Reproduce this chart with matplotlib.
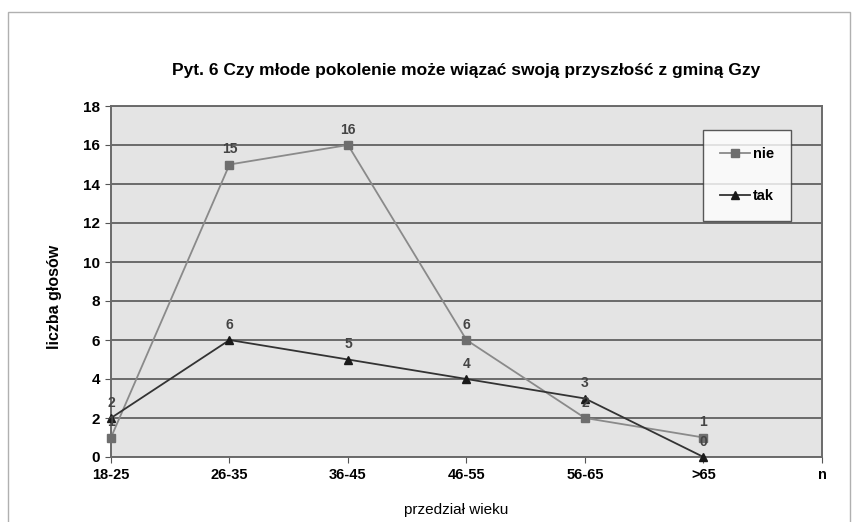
import matplotlib.pyplot as plt
from matplotlib.patches import Rectangle

plt.rcParams['font.family'] = ['Liberation Sans', 'DejaVu Sans']
plt.rcParams['font.weight'] = 'bold'

categories = ['18-25', '26-35', '36-45', '46-55', '56-65', '>65', 'n']
nie = [1, 15, 16, 6, 2, 1]
tak = [2, 6, 5, 4, 3, 0]
yticks = [0, 2, 4, 6, 8, 10, 12, 14, 16, 18]

fig = plt.figure(figsize=(8.53, 5.22), dpi=100)
fig.patch.set_facecolor('white')

# light frame round the whole chart
fig.patches.append(Rectangle((8 / 853, -0.05), 842 / 853, 1.05 - 12 / 522,
                             transform=fig.transFigure, fill=False,
                             edgecolor='#b0b0b0', linewidth=1.0))

ax = fig.add_axes([111 / 853, 1 - 457 / 522, 711 / 853, 351 / 522])
ax.set_facecolor('#e4e4e4')

x = list(range(len(nie)))
ax.plot(x, nie, color='#8a8a8a', linewidth=1.3, marker='s', markersize=6,
        markerfacecolor='#6e6e6e', markeredgecolor='#6e6e6e', label='nie',
        zorder=3, clip_on=False)
ax.plot(x, tak, color='#333333', linewidth=1.3, marker='^', markersize=6,
        markerfacecolor='#1a1a1a', markeredgecolor='#1a1a1a', label='tak',
        zorder=3, clip_on=False)

for xi, v in zip(x, nie):
    ax.annotate(str(v), (xi, v), textcoords='offset points', xytext=(0, 6),
                ha='center', va='bottom', fontsize=10, color='#444444')
for xi, v in zip(x, tak):
    ax.annotate(str(v), (xi, v), textcoords='offset points', xytext=(0, 6),
                ha='center', va='bottom', fontsize=10, color='#444444')

ax.set_xlim(0, 6)
ax.set_ylim(0, 18)
ax.set_xticks(range(len(categories)))
ax.set_xticklabels(categories, fontsize=10.5, fontweight='bold')
ax.set_yticks(yticks)
ax.set_yticklabels([str(t) for t in yticks], fontsize=11, fontweight='bold')
ax.tick_params(axis='both', direction='out', length=4, color='#555555', pad=4)
ax.grid(axis='y', color='#6a6a6a', linewidth=1.4)
ax.set_axisbelow(True)
for s in ax.spines.values():
    s.set_color('#6a6a6a')
    s.set_linewidth(1.4)

ax.set_title('Pyt. 6 Czy młode pokolenie może wiązać swoją przyszłość z gminą Gzy',
             fontsize=12.5, fontweight='bold', pad=22)
ax.set_xlabel('przedział wieku', fontsize=11, fontweight='normal')
ax.xaxis.set_label_coords((456 - 111) / 711, -(503 - 457) / 351)
ax.set_ylabel('liczba głosów', fontsize=11.5, fontweight='bold')
ax.yaxis.set_label_coords(-(111 - 62) / 711, (457 - 297) / 351)

leg = ax.legend(loc='upper left', bbox_to_anchor=(592 / 711, 327 / 351),
                frameon=True, fancybox=False, fontsize=10.5, labelspacing=1.9,
                handlelength=2.0, borderpad=1.2, handletextpad=0.2,
                borderaxespad=0)
leg.get_frame().set_edgecolor('#333333')
leg.get_frame().set_facecolor('white')
leg.get_frame().set_linewidth(1.0)

fig.savefig('out.png', dpi=100)
